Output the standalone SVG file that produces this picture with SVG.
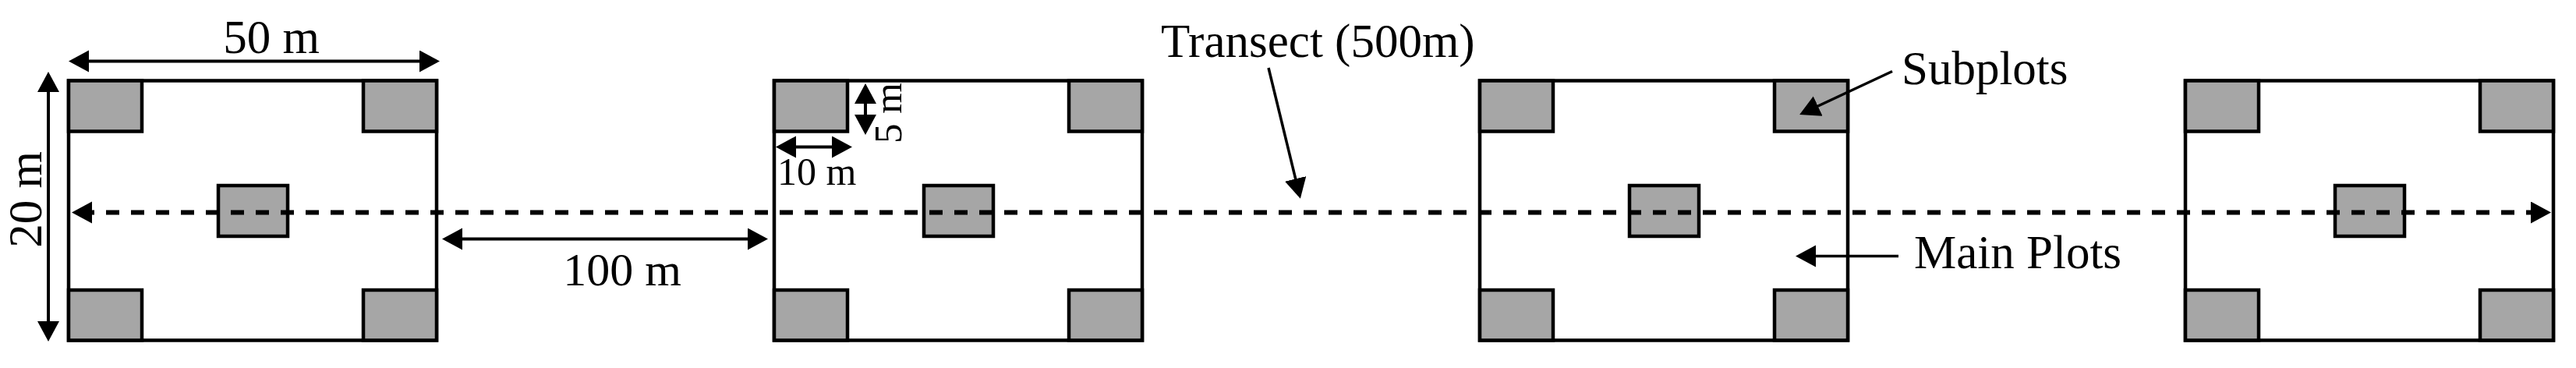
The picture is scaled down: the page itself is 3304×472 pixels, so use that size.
<svg xmlns="http://www.w3.org/2000/svg" width="3304" height="472" viewBox="0 0 3304 472">
<style>
.main{fill:#fff;stroke:#000;stroke-width:4.5}
.sub{fill:#a6a6a6;stroke:#000;stroke-width:4.5}
.lbl{font-family:"Liberation Serif","Times New Roman",serif;fill:#000}
.dim{stroke:#000;stroke-width:4;fill:none;marker-start:url(#ah);marker-end:url(#ah)}
.ptr{stroke:#000;stroke-width:3.5;fill:none;marker-end:url(#ah)}
.transect{stroke:#000;stroke-width:6;fill:none;stroke-dasharray:17 15;marker-start:url(#ah);marker-end:url(#ah)}
</style>
<defs>
<marker id="ah" markerUnits="userSpaceOnUse" markerWidth="28" markerHeight="30" viewBox="0 0 28 30" refX="14" refY="14" orient="auto-start-reverse">
<path d="M0,0 L26,14 L0,28 Z" fill="#000"/>
</marker>
</defs>
<rect width="3304" height="472" fill="#fff"/>

<g id="plot1">
<rect class="main" x="88" y="103.5" width="472" height="333"/>
<rect class="sub" x="88" y="103.5" width="94" height="65"/>
<rect class="sub" x="466" y="103.5" width="94" height="65"/>
<rect class="sub" x="88" y="372" width="94" height="64.5"/>
<rect class="sub" x="466" y="372" width="94" height="64.5"/>
<rect class="sub" x="280" y="238" width="89" height="65"/>
</g>
<g id="plot2">
<rect class="main" x="993" y="103.5" width="472" height="333"/>
<rect class="sub" x="993" y="103.5" width="94" height="65"/>
<rect class="sub" x="1371" y="103.5" width="94" height="65"/>
<rect class="sub" x="993" y="372" width="94" height="64.5"/>
<rect class="sub" x="1371" y="372" width="94" height="64.5"/>
<rect class="sub" x="1185" y="238" width="89" height="65"/>
</g>
<g id="plot3">
<rect class="main" x="1898" y="103.5" width="472" height="333"/>
<rect class="sub" x="1898" y="103.5" width="94" height="65"/>
<rect class="sub" x="2276" y="103.5" width="94" height="65"/>
<rect class="sub" x="1898" y="372" width="94" height="64.5"/>
<rect class="sub" x="2276" y="372" width="94" height="64.5"/>
<rect class="sub" x="2090" y="238" width="89" height="65"/>
</g>
<g id="plot4">
<rect class="main" x="2803" y="103.5" width="472" height="333"/>
<rect class="sub" x="2803" y="103.5" width="94" height="65"/>
<rect class="sub" x="3181" y="103.5" width="94" height="65"/>
<rect class="sub" x="2803" y="372" width="94" height="64.5"/>
<rect class="sub" x="3181" y="372" width="94" height="64.5"/>
<rect class="sub" x="2995" y="238" width="89" height="65"/>
</g>

<g id="connectors">
<line class="transect" x1="104" y1="272.5" x2="3260" y2="272.5"/>
<line class="dim" x1="100" y1="78.5" x2="552" y2="78.5"/>
<line class="dim" x1="62" y1="104" x2="62" y2="426"/>
<line class="dim" x1="579" y1="306.5" x2="973" y2="306.5"/>
<line class="dim" x1="1007" y1="188.5" x2="1081" y2="188.5"/>
<line class="dim" x1="1110" y1="119" x2="1110" y2="161"/>
<line class="ptr" x1="1627" y1="87" x2="1665" y2="243"/>
<line class="ptr" x1="2427" y1="91.5" x2="2319" y2="142"/>
<line class="ptr" x1="2435" y1="328.5" x2="2315" y2="328.5"/>
</g>

<g id="labels">
<text class="lbl" x="348" y="68" font-size="61" text-anchor="middle">50 m</text>
<text class="lbl" font-size="61" text-anchor="middle" transform="translate(53,256) rotate(-90)">20 m</text>
<text class="lbl" x="798" y="366" font-size="60" text-anchor="middle">100 m</text>
<text class="lbl" x="997" y="237" font-size="50">10 m</text>
<text class="lbl" font-size="51" text-anchor="middle" transform="translate(1156,145) rotate(-90)">5 m</text>
<text class="lbl" x="1489" y="73" font-size="61">Transect (500m)</text>
<text class="lbl" x="2439" y="108" font-size="61">Subplots</text>
<text class="lbl" x="2455" y="343.5" font-size="61">Main Plots</text>
</g>
</svg>
